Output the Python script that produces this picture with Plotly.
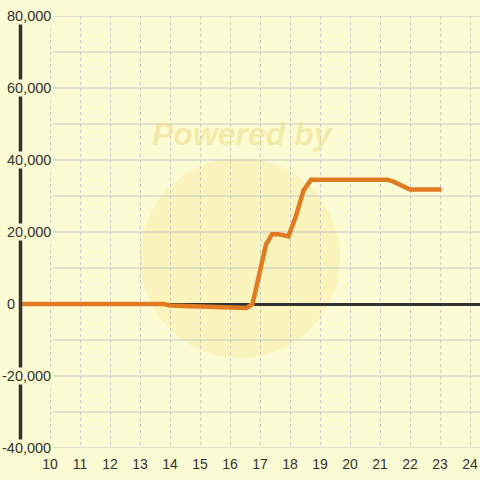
import plotly.graph_objects as go

# ---- data ----
x_vals = [9.0, 13.8, 14.0, 14.3, 14.5, 15.0, 15.5, 16.0, 16.4, 16.55, 16.75, 17.0, 17.2, 17.4,
          17.6, 17.95, 18.2, 18.45, 18.7, 19.0, 20.0, 21.0, 21.25, 21.45, 22.0, 23.05]
y_vals = [0, 0, -400, -400, -700, -700, -800, -1000, -1200, -1100, 0, 8500, 16500, 19400,
          19400, 18800, 24500, 31500, 34500, 34500, 34500, 34500, 34500, 34000, 31800, 31800]
x_ticks = list(range(10, 25))
y_ticks = [80000, 60000, 40000, 20000, 0, -20000, -40000]
y_labels = ["80,000", "60,000", "40,000", "20,000", "0", "-20,000", "-40,000"]
grid_y = [v for v in range(-40000, 80001, 10000) if v != 0]

BG = "#FCFCD4"
TXT = "#333333"
W, H = 480, 480
ML, MR, MT, MB = 20, 0, 16, 32
PW, PH = W - ML - MR, H - MT - MB

def px_x(p):
    return (p - ML) / PW

def px_y(p):
    return (H - MB - p) / PH

fig = go.Figure()
fig.add_trace(go.Scatter(x=x_vals, y=y_vals, mode="lines",
                         line=dict(color="#E07B24", width=4.5),
                         hoverinfo="skip"))

shapes = []
# watermark circle
shapes.append(dict(type="circle", xref="paper", yref="paper",
                   x0=px_x(140), x1=px_x(340), y0=px_y(358), y1=px_y(158),
                   fillcolor="rgba(250,232,150,0.38)", line=dict(width=0), layer="below"))
# horizontal grid lines (start right of the label column)
for g in grid_y:
    shapes.append(dict(type="line", xref="paper", yref="y", x0=px_x(53), x1=1, y0=g, y1=g,
                       line=dict(color="#C4C4C6", width=1), layer="below"))
# vertical axis line
shapes.append(dict(type="line", xref="paper", yref="paper", x0=px_x(20.5), x1=px_x(20.5),
                   y0=0, y1=1, line=dict(color=TXT, width=3.5), layer="above"))

annotations = [dict(text="Powered by", xref="paper", yref="paper", x=px_x(243), y=px_y(134),
                    xanchor="center", yanchor="middle",
                    showarrow=False, font=dict(family="Liberation Sans", size=32,
                                               color="rgba(236,218,130,0.5)",
                                               weight="bold", style="italic"))]
for v, lab in zip(y_ticks, y_labels):
    right = 16 if lab == "0" else 52
    annotations.append(dict(text=lab, xref="paper", yref="y", x=px_x(right), y=v,
                            xanchor="right", yanchor="middle", showarrow=False,
                            bgcolor=BG, borderpad=0,
                            font=dict(family="Liberation Sans", size=14.5, color=TXT)))

fig.update_layout(
    width=W, height=H, margin=dict(l=ML, r=MR, t=MT, b=MB),
    paper_bgcolor=BG, plot_bgcolor=BG, showlegend=False,
    shapes=shapes, annotations=annotations,
    xaxis=dict(range=[9, 9 + PW / 30], tickvals=x_ticks, showgrid=True,
               gridcolor="#C8C8C8", griddash="3px,3px", gridwidth=1,
               zeroline=False, showline=False, ticks="outside", ticklen=3,
               tickcolor=BG, tickfont=dict(family="Liberation Sans", size=14, color=TXT)),
    yaxis=dict(range=[-40000, 80000], showgrid=False, showticklabels=False,
               zeroline=True, zerolinecolor=TXT, zerolinewidth=3, ticks=""),
)

fig.write_html("out.html", config={"displayModeBar": False},
               post_script="document.body.style.margin='0';document.body.style.background='%s';" % BG)
